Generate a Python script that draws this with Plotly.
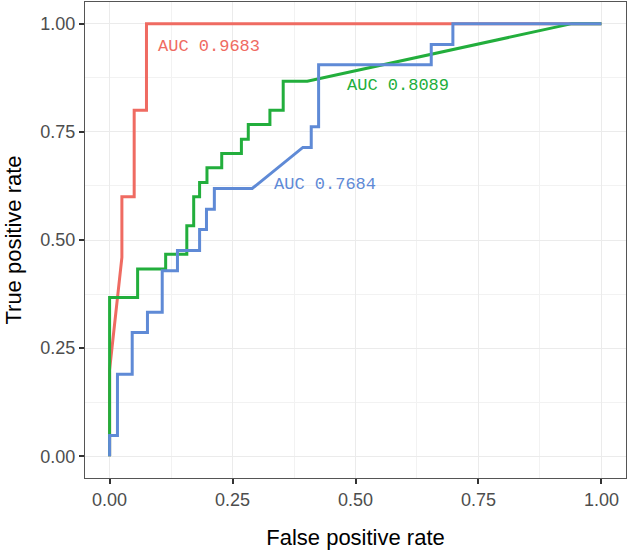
import plotly.graph_objects as go

# ROC curve data
red_fpr = [0, 0, 0.025, 0.025, 0.05, 0.05, 0.075, 0.075, 1.0]
red_tpr = [0, 0.2, 0.46, 0.6, 0.6, 0.8, 0.8, 1.0, 1.0]

green_fpr = [0, 0, 0, 0.057, 0.057, 0.114, 0.114, 0.157, 0.157, 0.171, 0.171,
             0.183, 0.183, 0.198, 0.198, 0.228, 0.228, 0.268, 0.268, 0.282,
             0.282, 0.326, 0.326, 0.353, 0.353, 0.402, 0.94, 1.0]
green_tpr = [0, 0.05, 0.367, 0.367, 0.433, 0.433, 0.467, 0.467, 0.533, 0.533, 0.6,
             0.6, 0.633, 0.633, 0.667, 0.667, 0.7, 0.7, 0.733, 0.733,
             0.767, 0.767, 0.8, 0.8, 0.867, 0.867, 1.0, 1.0]

blue_fpr = [0, 0, 0.016, 0.016, 0.046, 0.046, 0.077, 0.077, 0.107, 0.107, 0.138,
            0.138, 0.183, 0.183, 0.197, 0.197, 0.213, 0.213, 0.29, 0.393, 0.41,
            0.41, 0.425, 0.425, 0.654, 0.654, 0.698, 0.698, 1.0]
blue_tpr = [0, 0.048, 0.048, 0.19, 0.19, 0.286, 0.286, 0.333, 0.333, 0.429, 0.429,
            0.476, 0.476, 0.524, 0.524, 0.571, 0.571, 0.619, 0.619, 0.714, 0.714,
            0.762, 0.762, 0.905, 0.905, 0.952, 0.952, 1.0, 1.0]

auc_labels = ["AUC 0.9683", "AUC 0.8089", "AUC 0.7684"]
auc_x = [0.095, 0.478, 0.33]
auc_y = [0.948, 0.858, 0.628]

tick_vals = [0, 0.25, 0.5, 0.75, 1.0]
tick_text = ["0.00", "0.25", "0.50", "0.75", "1.00"]

colors = ["#EF6B62", "#22AE3C", "#5F8AD6"]

fig = go.Figure()
for fx, ty, c in [(red_fpr, red_tpr, colors[0]),
                  (green_fpr, green_tpr, colors[1]),
                  (blue_fpr, blue_tpr, colors[2])]:
    fig.add_trace(go.Scatter(x=fx, y=ty, mode="lines",
                             line=dict(color=c, width=3),
                             showlegend=False, hoverinfo="skip"))

for lab, ax_, ay_, c in zip(auc_labels, auc_x, auc_y, colors):
    fig.add_annotation(x=ax_, y=ay_, xref="x", yref="y", text=lab,
                       showarrow=False, xanchor="left", yanchor="middle",
                       font=dict(family="Courier New, Liberation Mono, monospace",
                                 size=17, color=c))

axis_common = dict(
    range=[-0.05, 1.05],
    automargin=False,
    tickvals=tick_vals, ticktext=tick_text,
    ticks="outside", ticklen=5, tickwidth=2, tickcolor="#333333",
    tickfont=dict(family="Liberation Sans, Arial, sans-serif", size=18, color="#4D4D4D"),
    showgrid=True, gridcolor="#EBEBEB", gridwidth=1,
    minor=dict(tickvals=[0.125, 0.375, 0.625, 0.875], showgrid=True,
               gridcolor="#F2F2F2", gridwidth=0.6, ticks=""),
    showline=True, linecolor="#555555", linewidth=1.2, mirror=True,
    zeroline=False,
)

fig.update_layout(
    width=628, height=553,
    margin=dict(l=85, r=2, t=2, b=75),
    paper_bgcolor="white", plot_bgcolor="white",
    xaxis=dict(axis_common,
               title=dict(text="False positive rate", standoff=20,
                          font=dict(family="Liberation Sans, Arial, sans-serif",
                                    size=22, color="black"))),
    yaxis=dict(axis_common,
               title=dict(text="True positive rate", standoff=12,
                          font=dict(family="Liberation Sans, Arial, sans-serif",
                                    size=22, color="black"))),
)

fig.write_html("out.html",
               config={"displayModeBar": False},
               post_script="document.body.style.margin='0';document.body.style.overflow='hidden';")
